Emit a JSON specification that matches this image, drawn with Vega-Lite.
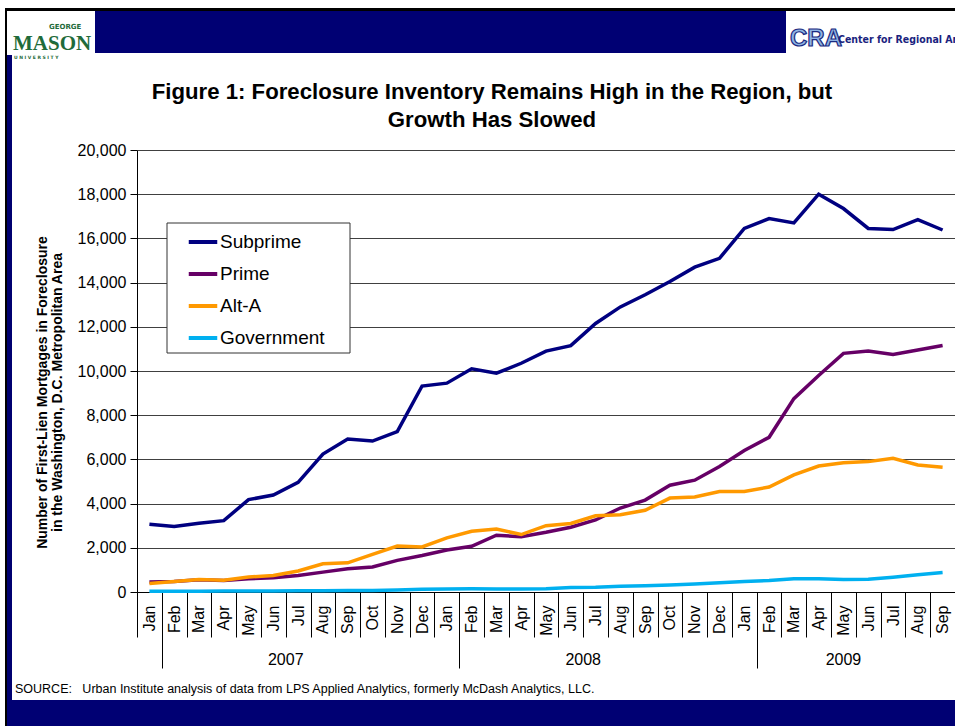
{
  "$schema": "https://vega.github.io/schema/vega-lite/v6.json",
  "width": 818,
  "height": 442,
  "autosize": {"type": "none"},
  "padding": {"left": 137, "top": 150, "right": 0, "bottom": 134},
  "background": "white",
  "title": {
    "text": ["Figure 1: Foreclosure Inventory Remains High in the Region, but", "Growth Has Slowed"],
    "fontSize": 22.2, "font": "Liberation Sans", "fontWeight": "bold", "color": "black",
    "anchor": "middle", "frame": "group", "dx": -54, "offset": -123, "lineHeight": 27.5
  },
  "config": {"view": {"stroke": null}, "font": "Liberation Sans"},
  "layer": [
    {"data": {"values": [{}]}, "mark": {"type": "rect", "x": -132, "x2": 818, "y": -142, "y2": -139, "color": "#000000"}},
    {"data": {"values": [{}]}, "mark": {"type": "rect", "x": -132, "x2": -130, "y": -142, "y2": 576, "color": "#000000"}},
    {"data": {"values": [{}]}, "mark": {"type": "rect", "x": -130, "x2": -125, "y": -95, "y2": 550, "color": "#000070"}},
    {"data": {"values": [{}]}, "mark": {"type": "rect", "x": -42, "x2": 649, "y": -139, "y2": -97, "color": "#000073"}},
    {"data": {"values": [{}]}, "mark": {"type": "rect", "x": -130, "x2": 818, "y": 550, "y2": 576, "color": "#000073"}},
    {"data": {"values": [{}]}, "mark": {"type": "rect", "x": 30, "x2": 213, "y": 73, "y2": 203, "fill": "white", "stroke": "#333333", "strokeWidth": 1}},
    {"data": {"values": [{}]}, "mark": {"type": "text", "x": -88, "y": -121, "text": "GEORGE", "font": "DejaVu Sans", "fontWeight": "bold", "fontSize": 7, "color": "#1f6b3a", "align": "left", "baseline": "alphabetic"}},
    {"data": {"values": [{}]}, "mark": {"type": "text", "x": -124, "y": -100.5, "text": "MASON", "font": "Liberation Serif", "fontWeight": "bold", "fontSize": 21, "color": "#1f6b3a", "align": "left", "baseline": "alphabetic"}},
    {"data": {"values": [{}]}, "mark": {"type": "text", "x": -123, "y": -91.5, "text": "U N I V E R S I T Y", "font": "DejaVu Sans", "fontWeight": "bold", "fontSize": 4.5, "color": "#1f6b3a", "align": "left", "baseline": "alphabetic"}},
    {"data": {"values": [{}]}, "mark": {"type": "text", "x": 653, "y": -104, "text": "CRA", "font": "Liberation Sans", "fontWeight": "bold", "fontSize": 24, "color": "#8fb4e3", "stroke": "#1a2a80", "strokeWidth": 1.2, "align": "left", "baseline": "alphabetic"}},
    {"data": {"values": [{}]}, "mark": {"type": "text", "x": 701, "y": -107, "text": "Center for Regional Analy", "font": "DejaVu Sans Condensed, Liberation Sans", "fontWeight": "bold", "fontSize": 10.5, "color": "#1a237e", "align": "left", "baseline": "alphabetic"}},
    {"data": {"values": [{}]}, "mark": {"type": "text", "x": -122, "y": 543, "text": "SOURCE:\u00a0\u00a0 Urban Institute analysis of data from LPS Applied Analytics, formerly McDash Analytics, LLC.", "fontSize": 12.5, "color": "black", "align": "left", "baseline": "alphabetic"}},
    {
      "data": {"values": [
        {"m": "2007-01", "s": "Subprime", "v": 3070}, {"m": "2007-02", "s": "Subprime", "v": 2960}, {"m": "2007-03", "s": "Subprime", "v": 3110}, {"m": "2007-04", "s": "Subprime", "v": 3230},
        {"m": "2007-05", "s": "Subprime", "v": 4180}, {"m": "2007-06", "s": "Subprime", "v": 4390}, {"m": "2007-07", "s": "Subprime", "v": 4960}, {"m": "2007-08", "s": "Subprime", "v": 6240},
        {"m": "2007-09", "s": "Subprime", "v": 6920}, {"m": "2007-10", "s": "Subprime", "v": 6830}, {"m": "2007-11", "s": "Subprime", "v": 7260}, {"m": "2007-12", "s": "Subprime", "v": 9320},
        {"m": "2008-01", "s": "Subprime", "v": 9450}, {"m": "2008-02", "s": "Subprime", "v": 10100}, {"m": "2008-03", "s": "Subprime", "v": 9900}, {"m": "2008-04", "s": "Subprime", "v": 10350},
        {"m": "2008-05", "s": "Subprime", "v": 10900}, {"m": "2008-06", "s": "Subprime", "v": 11150}, {"m": "2008-07", "s": "Subprime", "v": 12150}, {"m": "2008-08", "s": "Subprime", "v": 12900},
        {"m": "2008-09", "s": "Subprime", "v": 13450}, {"m": "2008-10", "s": "Subprime", "v": 14050}, {"m": "2008-11", "s": "Subprime", "v": 14700}, {"m": "2008-12", "s": "Subprime", "v": 15100},
        {"m": "2009-01", "s": "Subprime", "v": 16450}, {"m": "2009-02", "s": "Subprime", "v": 16900}, {"m": "2009-03", "s": "Subprime", "v": 16700}, {"m": "2009-04", "s": "Subprime", "v": 18000},
        {"m": "2009-05", "s": "Subprime", "v": 17350}, {"m": "2009-06", "s": "Subprime", "v": 16450}, {"m": "2009-07", "s": "Subprime", "v": 16400}, {"m": "2009-08", "s": "Subprime", "v": 16850},
        {"m": "2009-09", "s": "Subprime", "v": 16380},
        {"m": "2007-01", "s": "Prime", "v": 450}, {"m": "2007-02", "s": "Prime", "v": 480}, {"m": "2007-03", "s": "Prime", "v": 555}, {"m": "2007-04", "s": "Prime", "v": 525},
        {"m": "2007-05", "s": "Prime", "v": 600}, {"m": "2007-06", "s": "Prime", "v": 650}, {"m": "2007-07", "s": "Prime", "v": 750}, {"m": "2007-08", "s": "Prime", "v": 900},
        {"m": "2007-09", "s": "Prime", "v": 1050}, {"m": "2007-10", "s": "Prime", "v": 1130}, {"m": "2007-11", "s": "Prime", "v": 1430}, {"m": "2007-12", "s": "Prime", "v": 1650},
        {"m": "2008-01", "s": "Prime", "v": 1900}, {"m": "2008-02", "s": "Prime", "v": 2070}, {"m": "2008-03", "s": "Prime", "v": 2570}, {"m": "2008-04", "s": "Prime", "v": 2500},
        {"m": "2008-05", "s": "Prime", "v": 2700}, {"m": "2008-06", "s": "Prime", "v": 2930}, {"m": "2008-07", "s": "Prime", "v": 3260}, {"m": "2008-08", "s": "Prime", "v": 3800},
        {"m": "2008-09", "s": "Prime", "v": 4160}, {"m": "2008-10", "s": "Prime", "v": 4830}, {"m": "2008-11", "s": "Prime", "v": 5060}, {"m": "2008-12", "s": "Prime", "v": 5680},
        {"m": "2009-01", "s": "Prime", "v": 6400}, {"m": "2009-02", "s": "Prime", "v": 7000}, {"m": "2009-03", "s": "Prime", "v": 8750}, {"m": "2009-04", "s": "Prime", "v": 9800},
        {"m": "2009-05", "s": "Prime", "v": 10800}, {"m": "2009-06", "s": "Prime", "v": 10900}, {"m": "2009-07", "s": "Prime", "v": 10750}, {"m": "2009-08", "s": "Prime", "v": 10950},
        {"m": "2009-09", "s": "Prime", "v": 11150},
        {"m": "2007-01", "s": "Alt-A", "v": 380}, {"m": "2007-02", "s": "Alt-A", "v": 480}, {"m": "2007-03", "s": "Alt-A", "v": 570}, {"m": "2007-04", "s": "Alt-A", "v": 530},
        {"m": "2007-05", "s": "Alt-A", "v": 680}, {"m": "2007-06", "s": "Alt-A", "v": 750}, {"m": "2007-07", "s": "Alt-A", "v": 950}, {"m": "2007-08", "s": "Alt-A", "v": 1280},
        {"m": "2007-09", "s": "Alt-A", "v": 1320}, {"m": "2007-10", "s": "Alt-A", "v": 1700}, {"m": "2007-11", "s": "Alt-A", "v": 2080}, {"m": "2007-12", "s": "Alt-A", "v": 2040},
        {"m": "2008-01", "s": "Alt-A", "v": 2450}, {"m": "2008-02", "s": "Alt-A", "v": 2750}, {"m": "2008-03", "s": "Alt-A", "v": 2850}, {"m": "2008-04", "s": "Alt-A", "v": 2600},
        {"m": "2008-05", "s": "Alt-A", "v": 3000}, {"m": "2008-06", "s": "Alt-A", "v": 3100}, {"m": "2008-07", "s": "Alt-A", "v": 3450}, {"m": "2008-08", "s": "Alt-A", "v": 3500},
        {"m": "2008-09", "s": "Alt-A", "v": 3700}, {"m": "2008-10", "s": "Alt-A", "v": 4250}, {"m": "2008-11", "s": "Alt-A", "v": 4300}, {"m": "2008-12", "s": "Alt-A", "v": 4550},
        {"m": "2009-01", "s": "Alt-A", "v": 4550}, {"m": "2009-02", "s": "Alt-A", "v": 4750}, {"m": "2009-03", "s": "Alt-A", "v": 5300}, {"m": "2009-04", "s": "Alt-A", "v": 5700},
        {"m": "2009-05", "s": "Alt-A", "v": 5850}, {"m": "2009-06", "s": "Alt-A", "v": 5900}, {"m": "2009-07", "s": "Alt-A", "v": 6050}, {"m": "2009-08", "s": "Alt-A", "v": 5750},
        {"m": "2009-09", "s": "Alt-A", "v": 5650},
        {"m": "2007-01", "s": "Government", "v": 30}, {"m": "2007-02", "s": "Government", "v": 30}, {"m": "2007-03", "s": "Government", "v": 35}, {"m": "2007-04", "s": "Government", "v": 40},
        {"m": "2007-05", "s": "Government", "v": 40}, {"m": "2007-06", "s": "Government", "v": 50}, {"m": "2007-07", "s": "Government", "v": 55}, {"m": "2007-08", "s": "Government", "v": 60},
        {"m": "2007-09", "s": "Government", "v": 65}, {"m": "2007-10", "s": "Government", "v": 70}, {"m": "2007-11", "s": "Government", "v": 90}, {"m": "2007-12", "s": "Government", "v": 130},
        {"m": "2008-01", "s": "Government", "v": 140}, {"m": "2008-02", "s": "Government", "v": 150}, {"m": "2008-03", "s": "Government", "v": 140}, {"m": "2008-04", "s": "Government", "v": 140},
        {"m": "2008-05", "s": "Government", "v": 150}, {"m": "2008-06", "s": "Government", "v": 200}, {"m": "2008-07", "s": "Government", "v": 210}, {"m": "2008-08", "s": "Government", "v": 260},
        {"m": "2008-09", "s": "Government", "v": 280}, {"m": "2008-10", "s": "Government", "v": 320}, {"m": "2008-11", "s": "Government", "v": 360}, {"m": "2008-12", "s": "Government", "v": 420},
        {"m": "2009-01", "s": "Government", "v": 480}, {"m": "2009-02", "s": "Government", "v": 520}, {"m": "2009-03", "s": "Government", "v": 600}, {"m": "2009-04", "s": "Government", "v": 600},
        {"m": "2009-05", "s": "Government", "v": 570}, {"m": "2009-06", "s": "Government", "v": 580}, {"m": "2009-07", "s": "Government", "v": 670}, {"m": "2009-08", "s": "Government", "v": 780},
        {"m": "2009-09", "s": "Government", "v": 880}
      ]},
      "mark": {"type": "line", "strokeWidth": 3.5},
      "encoding": {
        "x": {
          "field": "m", "type": "ordinal",
          "scale": {"type": "band", "paddingInner": 0, "paddingOuter": 0},
          "axis": {
            "title": null, "grid": false, "tickBand": "extent",
            "labelAngle": -90, "labelAlign": "right", "labelBaseline": "middle",
            "labelFontSize": 16, "labelColor": "black", "labelFont": "Liberation Sans",
            "labelExpr": "['Jan','Feb','Mar','Apr','May','Jun','Jul','Aug','Sep','Oct','Nov','Dec'][toNumber(substring(datum.value,5,7))-1]",
            "tickColor": "black", "tickWidth": 1,
            "tickSize": {"condition": {"test": "substring(datum.value,5,7) == '01'", "value": 76}, "value": 45},
            "labelPadding": {"condition": {"test": "substring(datum.value,5,7) == '01'", "value": -63}, "value": -32},
            "domainColor": "black"
          }
        },
        "y": {
          "field": "v", "type": "quantitative",
          "scale": {"domain": [0, 20000], "nice": false},
          "axis": {
            "title": ["Number of First-Lien Mortgages in Foreclosure", "in the Washington, D.C. Metropolitan Area"],
            "titleFontSize": 14, "titleFontWeight": "bold", "titleColor": "black", "titleLineHeight": 15, "titlePadding": 13,
            "titleY": 242,
            "values": [0, 2000, 4000, 6000, 8000, 10000, 12000, 14000, 16000, 18000, 20000],
            "format": ",d", "labelFontSize": 16, "labelColor": "black", "labelPadding": 4,
            "tickSize": 7, "tickColor": "black", "domainColor": "black",
            "gridColor": "#404040", "gridWidth": 1
          }
        },
        "color": {
          "field": "s", "type": "nominal",
          "scale": {"domain": ["Subprime", "Prime", "Alt-A", "Government"], "range": ["#000080", "#660066", "#FF9900", "#00B0F0"]},
          "legend": {
            "orient": "none", "legendX": 30, "legendY": 73, "title": null, "direction": "vertical",
            "fillColor": null, "strokeColor": null, "padding": 7.5,
            "symbolType": "M-1.5,0H1.5", "symbolSize": 361, "symbolStrokeWidth": 4, "symbolOffset": 17,
            "labelOffset": 5.5, "labelFontSize": 19, "labelColor": "black", "rowPadding": 10
          }
        }
      }
    },
    {
      "data": {"values": [{"m": "2007-07", "t": "2007"}, {"m": "2008-07", "t": "2008"}]},
      "mark": {"type": "text", "fontSize": 16, "color": "black", "align": "center", "baseline": "middle"},
      "encoding": {
        "x": {"field": "m", "type": "ordinal", "bandPosition": 0},
        "y": {"value": 510},
        "text": {"field": "t"}
      }
    },
    {
      "data": {"values": [{"m": "2009-05", "t": "2009"}]},
      "mark": {"type": "text", "fontSize": 16, "color": "black", "align": "center", "baseline": "middle"},
      "encoding": {
        "x": {"field": "m", "type": "ordinal", "bandPosition": 0.5},
        "y": {"value": 510},
        "text": {"field": "t"}
      }
    }
  ]
}
